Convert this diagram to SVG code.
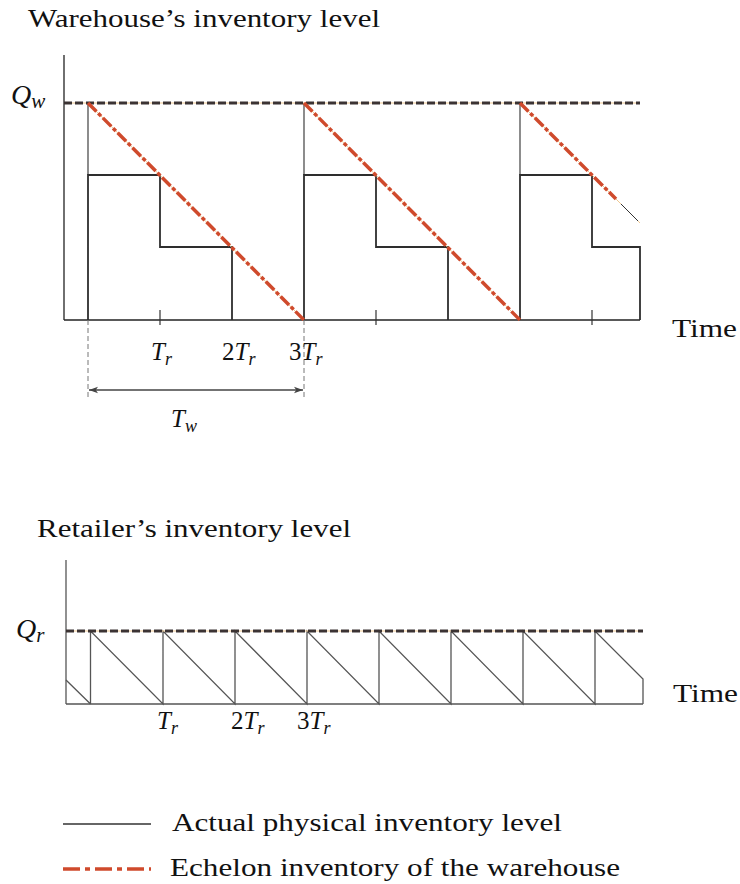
<svg xmlns="http://www.w3.org/2000/svg" width="740" height="884" viewBox="0 0 740 884">
<defs>
<style>
.txt{font-family:"Liberation Serif","DejaVu Serif",serif;fill:#111;}
.ttl{font-size:26px;}
.m{font-family:"Liberation Serif","DejaVu Serif",serif;font-style:italic;fill:#111;}
.axis{stroke:#222;stroke-width:1.3;fill:none;}
.phys{stroke:#2e2e2e;stroke-width:1.8;fill:none;}
.thin{stroke:#2e2e2e;stroke-width:1.1;fill:none;}
.ret{stroke:#555;stroke-width:1.3;fill:none;}
.under{stroke:#f0c890;stroke-width:1;fill:none;}
.qline{stroke:#3b3333;stroke-width:3;stroke-dasharray:8 3;fill:none;}
.ech{stroke:#cf4a2c;stroke-width:3.5;stroke-dasharray:12 2.5 4 2.5;fill:none;}
.guide{stroke:#777;stroke-width:1;stroke-dasharray:5 3;fill:none;}
.tick{stroke:#333;stroke-width:1.2;}
</style>
<marker id="ah" viewBox="0 0 10 10" refX="10" refY="5" markerWidth="9" markerHeight="9" markerUnits="userSpaceOnUse" orient="auto-start-reverse">
<path d="M0,1.5 L10,5 L0,8.5 L2.5,5 Z" fill="#444"/>
</marker>
</defs>
<rect width="740" height="884" fill="#fff"/>

<g id="warehouse-title"><text class="txt ttl" x="28" y="27" textLength="352" lengthAdjust="spacingAndGlyphs">Warehouse’s inventory level</text></g>

<g id="warehouse-axes">
<line class="axis" x1="64" y1="55" x2="64" y2="320"/>
<line class="axis" x1="64" y1="320" x2="640" y2="320"/>
<line class="tick" x1="160" y1="310" x2="160" y2="325"/>
<line class="tick" x1="376" y1="310" x2="376" y2="325"/>
<line class="tick" x1="592" y1="310" x2="592" y2="325"/>
<text class="txt" x="672" y="337" font-size="26" textLength="65" lengthAdjust="spacingAndGlyphs">Time</text>
<text class="m" x="11" y="104" font-size="28">Q<tspan font-size="21" dy="4">w</tspan></text>
</g>

<g id="warehouse-physical">
<line class="thin" x1="88" y1="103" x2="88" y2="175"/>
<path class="phys" d="M88,320 V175 H160 V247 H232 V320"/>
<line class="thin" x1="304" y1="103" x2="304" y2="175"/>
<path class="phys" d="M304,320 V175 H376 V247 H448 V320"/>
<line class="thin" x1="520" y1="103" x2="520" y2="175"/>
<path class="phys" d="M520,320 V175 H592 V247 H640 V320"/>
</g>

<g id="warehouse-qw">
<line class="under" x1="64" y1="103" x2="640" y2="103"/>
<line class="qline" x1="64" y1="103" x2="640" y2="103"/>
</g>

<g id="warehouse-echelon">
<line class="under" x1="88" y1="103" x2="304" y2="320"/>
<line class="ech" x1="88" y1="103" x2="304" y2="320"/>
<line class="under" x1="304" y1="103" x2="520" y2="320"/>
<line class="ech" x1="304" y1="103" x2="520" y2="320"/>
<line class="under" x1="520" y1="103" x2="640" y2="223"/>
<line class="ech" x1="520" y1="103" x2="616" y2="199"/>
<line stroke="#333" stroke-width="1" x1="621" y1="204" x2="638" y2="221"/>
</g>

<g id="warehouse-labels">
<text class="m" x="151" y="360" font-size="25">T<tspan font-size="18" dy="5">r</tspan></text>
<text class="m" x="222" y="360" font-size="25"><tspan font-style="normal">2</tspan>T<tspan font-size="18" dy="5">r</tspan></text>
<text class="m" x="289" y="360" font-size="25"><tspan font-style="normal">3</tspan>T<tspan font-size="18" dy="5">r</tspan></text>
<text class="m" x="171" y="427" font-size="25">T<tspan font-size="18" dy="5">w</tspan></text>
</g>

<g id="tw-dimension">
<line class="guide" x1="88" y1="320" x2="88" y2="397"/>
<line class="guide" x1="304" y1="320" x2="304" y2="397"/>
<line stroke="#444" stroke-width="1.4" x1="89" y1="390" x2="303" y2="390" marker-start="url(#ah)" marker-end="url(#ah)"/>
</g>

<g id="retailer-title"><text class="txt ttl" x="37" y="537" textLength="314" lengthAdjust="spacingAndGlyphs">Retailer’s inventory level</text></g>

<g id="retailer-axes">
<line class="ret" x1="66" y1="560" x2="66" y2="704"/>
<line class="ret" x1="66" y1="704" x2="643" y2="704"/>
<text class="txt" x="673" y="702" font-size="26" textLength="65" lengthAdjust="spacingAndGlyphs">Time</text>
<text class="m" x="16" y="638" font-size="28">Q<tspan font-size="21" dy="4">r</tspan></text>
</g>

<g id="retailer-physical">
<path class="ret" d="M66,680 L90.5,704 M90.5,704 V631 L163,704 V631 L235,704 V631 L307,704 V631 L379,704 V631 L451,704 V631 L523,704 V631 L595,704 V631 L643,679 V704"/>
</g>

<g id="retailer-qr">
<line class="under" x1="66" y1="631" x2="643" y2="631"/>
<line class="qline" x1="66" y1="631" x2="643" y2="631"/>
</g>

<g id="retailer-labels">
<text class="m" x="157" y="729" font-size="25">T<tspan font-size="18" dy="5">r</tspan></text>
<text class="m" x="231" y="729" font-size="25"><tspan font-style="normal">2</tspan>T<tspan font-size="18" dy="5">r</tspan></text>
<text class="m" x="297" y="729" font-size="25"><tspan font-style="normal">3</tspan>T<tspan font-size="18" dy="5">r</tspan></text>
</g>

<g id="legend">
<line stroke="#333" stroke-width="1.4" x1="63" y1="824" x2="151" y2="824"/>
<text class="txt" x="172" y="831" font-size="25" textLength="390" lengthAdjust="spacingAndGlyphs">Actual physical inventory level</text>
<line class="ech" x1="63" y1="869" x2="151" y2="869" style="stroke-dasharray:17 5 5 5"/>
<text class="txt" x="170" y="876" font-size="25" textLength="450" lengthAdjust="spacingAndGlyphs">Echelon inventory of the warehouse</text>
</g>
</svg>
